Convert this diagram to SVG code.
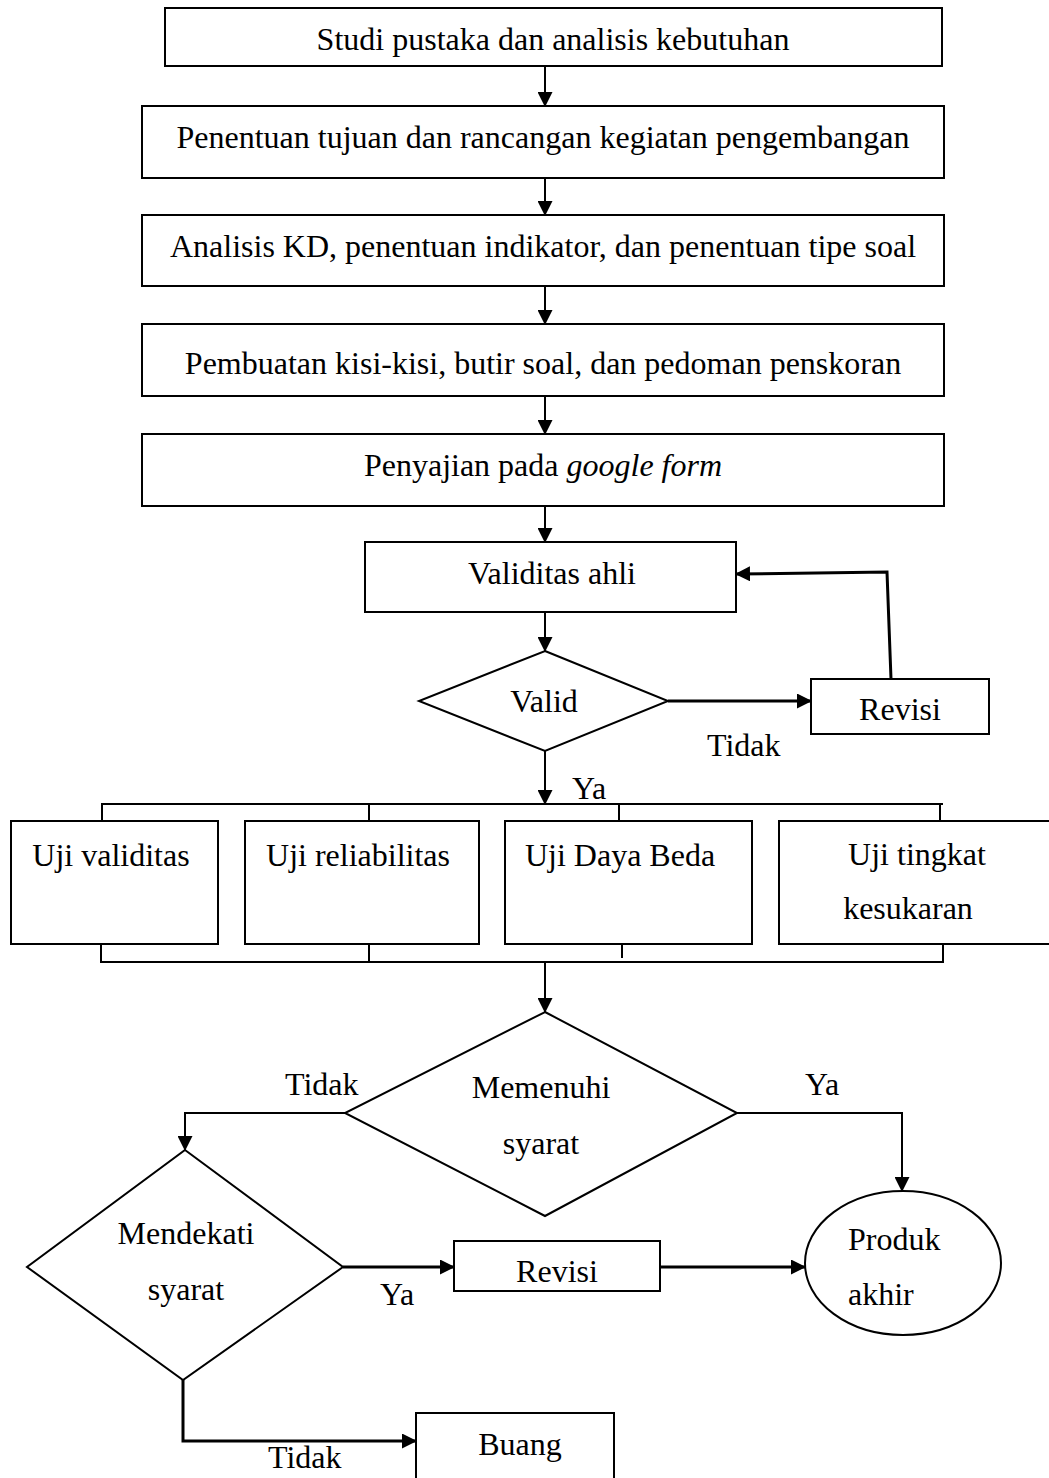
<svg xmlns="http://www.w3.org/2000/svg" width="1049" height="1478" viewBox="0 0 1049 1478">
<style>
.n{fill:#fff;stroke:#000;stroke-width:2}
.t{font-family:"Liberation Serif","Times New Roman",serif;font-size:32px;fill:#000}
.c{text-anchor:middle}
.l{fill:none;stroke:#000;stroke-width:2}
.a{marker-end:url(#ah)}
.k{stroke-width:3}
</style>
<defs>
<marker id="ah" markerUnits="userSpaceOnUse" markerWidth="15" markerHeight="15" refX="14" refY="7.5" orient="auto">
<path d="M0,0 L15,7.5 L0,15 Z" fill="#000"/>
</marker>
</defs>
<rect width="1049" height="1478" fill="#fff"/>

<g id="connectors">
<line class="l a" x1="545" y1="66" x2="545" y2="106"/>
<line class="l a" x1="545" y1="178" x2="545" y2="215"/>
<line class="l a" x1="545" y1="286" x2="545" y2="324"/>
<line class="l a" x1="545" y1="396" x2="545" y2="434"/>
<line class="l a" x1="545" y1="506" x2="545" y2="542"/>
<line class="l a" x1="545" y1="612" x2="545" y2="651"/>
<line class="l a k" x1="668" y1="701" x2="811" y2="701"/>
<polyline class="l a k" points="891,679 887,572 736,574"/>
<line class="l a" x1="545" y1="751" x2="545" y2="804"/>
<polyline class="l" points="102,821 102,804 943,804"/>
<line class="l" x1="369" y1="804" x2="369" y2="821"/>
<line class="l" x1="619" y1="804" x2="619" y2="821"/>
<line class="l" x1="940" y1="804" x2="940" y2="821"/>
<polyline class="l" points="101,944 101,962 943,962 943,944"/>
<line class="l" x1="369" y1="944" x2="369" y2="962"/>
<line class="l" x1="622" y1="937" x2="622" y2="958"/>
<line class="l a" x1="545" y1="962" x2="545" y2="1012"/>
<polyline class="l a" points="345,1113 185,1113 185,1150"/>
<polyline class="l a" points="737,1113 902,1113 902,1191"/>
<line class="l a k" x1="343" y1="1267" x2="454" y2="1267"/>
<line class="l a k" x1="660" y1="1267" x2="805" y2="1267"/>
<polyline class="l a k" points="183,1380 183,1441 416,1441"/>
<text class="t" x="707" y="756">Tidak</text>
<text class="t" x="572" y="799">Ya</text>
<text class="t" x="285" y="1095">Tidak</text>
<text class="t" x="805" y="1095">Ya</text>
<text class="t" x="380" y="1305">Ya</text>
<text class="t" x="268" y="1468">Tidak</text>
</g>

<g id="n1"><rect class="n" x="165" y="8" width="777" height="58"/><text class="t c" x="553" y="50">Studi pustaka dan analisis kebutuhan</text></g>
<g id="n2"><rect class="n" x="142" y="106" width="802" height="72"/><text class="t c" x="543" y="148">Penentuan tujuan dan rancangan kegiatan pengembangan</text></g>
<g id="n3"><rect class="n" x="142" y="215" width="802" height="71"/><text class="t c" x="543" y="257">Analisis KD, penentuan indikator, dan penentuan tipe soal</text></g>
<g id="n4"><rect class="n" x="142" y="324" width="802" height="72"/><text class="t c" x="543" y="374">Pembuatan kisi-kisi, butir soal, dan pedoman penskoran</text></g>
<g id="n5"><rect class="n" x="142" y="434" width="802" height="72"/><text class="t c" x="543" y="476">Penyajian pada <tspan font-style="italic">google form</tspan></text></g>
<g id="n6"><rect class="n" x="365" y="542" width="371" height="70"/><text class="t c" x="552" y="584">Validitas ahli</text></g>
<g id="n7"><polygon class="n" points="545,651 668,701 545,751 419,701"/><text class="t c" x="544" y="712">Valid</text></g>
<g id="n8"><rect class="n" x="811" y="679" width="178" height="55"/><text class="t c" x="900" y="720">Revisi</text></g>
<g id="n9"><rect class="n" x="11" y="821" width="207" height="123"/><text class="t c" x="111" y="866">Uji validitas</text></g>
<g id="n10"><rect class="n" x="245" y="821" width="234" height="123"/><text class="t c" x="358" y="866">Uji reliabilitas</text></g>
<g id="n11"><rect class="n" x="505" y="821" width="247" height="123"/><text class="t c" x="620" y="866">Uji Daya Beda</text></g>
<g id="n12"><rect class="n" x="779" y="821" width="272" height="123"/><text class="t c" x="917" y="865">Uji tingkat</text><text class="t c" x="908" y="919">kesukaran</text></g>
<g id="n13"><polygon class="n" points="545,1012 737,1113 545,1216 345,1113"/><text class="t c" x="541" y="1098">Memenuhi</text><text class="t c" x="541" y="1154">syarat</text></g>
<g id="n14"><polygon class="n" points="185,1150 343,1267 183,1380 27,1267"/><text class="t c" x="186" y="1244">Mendekati</text><text class="t c" x="186" y="1300">syarat</text></g>
<g id="n15"><rect class="n" x="454" y="1241" width="206" height="50"/><text class="t c" x="557" y="1282">Revisi</text></g>
<g id="n16"><ellipse class="n" cx="903" cy="1263" rx="98" ry="72"/><text class="t" x="848" y="1250">Produk</text><text class="t" x="848" y="1305">akhir</text></g>
<g id="n17"><rect class="n" x="416" y="1413" width="198" height="80"/><text class="t c" x="520" y="1455">Buang</text></g>
</svg>
